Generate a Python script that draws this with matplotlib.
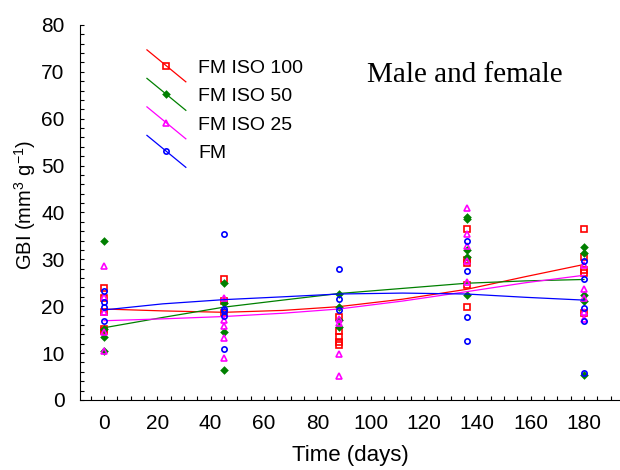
#
# GBI vs time with quadratic trend curves, four groups
#
import matplotlib
matplotlib.use('Agg')
import matplotlib.pyplot as plt
from matplotlib.legend_handler import HandlerLine2D
from matplotlib.lines import Line2D
from matplotlib.ticker import MultipleLocator

plt.rcParams['font.family'] = ['Liberation Sans', 'DejaVu Sans']
plt.rcParams['mathtext.fontset'] = 'custom'
plt.rcParams['mathtext.rm'] = 'Liberation Sans'
plt.rcParams['mathtext.it'] = 'Liberation Sans:italic'

# scatter data (day, GBI)
iso100_day = [0, 0, 0, 0, 0, 45, 45, 45, 88, 88, 88, 88, 88,
              136, 136, 136, 136, 136, 180, 180, 180, 180, 180]
iso100_gbi = [23.8, 21.8, 18.7, 15.1, 14.7, 25.9, 21.2, 18.5, 17.6, 14.8, 13.5, 12.4, 11.7,
              36.5, 29.9, 29.3, 24.6, 19.9, 36.5, 30.6, 27.7, 27.0, 18.6]

iso50_day = [0, 0, 0, 0, 45, 45, 45, 45, 88, 88, 88, 88,
             136, 136, 136, 136, 136, 180, 180, 180, 180, 180]
iso50_gbi = [34.0, 15.1, 13.5, 10.5, 25.0, 20.6, 14.4, 6.3, 22.5, 19.9, 17.1, 15.6,
             39.1, 38.7, 31.9, 30.6, 22.4, 32.7, 31.4, 22.4, 21.2, 5.3]

iso25_day = [0, 0, 0, 0, 0, 45, 45, 45, 45, 45, 88, 88, 88, 88,
             136, 136, 136, 136, 136, 180, 180, 180, 180, 180]
iso25_gbi = [28.6, 22.0, 18.7, 14.5, 10.5, 21.7, 17.1, 15.8, 13.2, 8.9, 17.2, 16.5, 9.8, 5.1,
             41.0, 35.3, 32.9, 29.6, 25.2, 28.8, 23.6, 21.7, 18.8, 17.2]

fm_day = [0, 0, 0, 0, 45, 45, 45, 45, 45, 88, 88, 88,
          136, 136, 136, 136, 180, 180, 180, 180, 180]
fm_gbi = [23.3, 21.0, 19.9, 16.9, 35.3, 19.4, 19.0, 17.9, 10.9, 28.0, 21.6, 19.1,
          34.0, 27.6, 17.8, 12.6, 29.7, 25.7, 19.7, 16.9, 5.8]

# trend curves
fit_day = [0, 22, 45, 67, 88, 112, 136, 158, 180]
iso100_fit = [19.4, 19.0, 18.7, 19.1, 19.9, 21.5, 23.6, 26.3, 28.9]
iso50_fit = [15.4, 17.6, 19.8, 21.3, 22.7, 23.8, 24.9, 25.4, 25.7]
iso25_fit = [16.9, 17.3, 17.8, 18.5, 19.4, 21.1, 23.1, 25.0, 26.6]
fm_fit = [19.2, 20.5, 21.4, 22.0, 22.6, 22.8, 22.6, 21.9, 21.3]


class DiagHandler(HandlerLine2D):
    # legend glyph: short falling line with the marker in the middle
    def create_artists(self, legend, orig_handle, xdescent, ydescent,
                       width, height, fontsize, trans):
        x0, x1 = -xdescent, width - xdescent
        yc = height / 2 - ydescent
        y0, y1 = yc + 11.5, yc - 11.5
        ln = Line2D([x0, x1], [y0, y1], color=orig_handle.get_color(), lw=0.9)
        mk = Line2D([(x0 + x1) / 2], [(y0 + y1) / 2], ls='none',
                    marker=orig_handle.get_marker(),
                    markersize=orig_handle.get_markersize(),
                    markerfacecolor=orig_handle.get_markerfacecolor(),
                    markeredgecolor=orig_handle.get_markeredgecolor(),
                    markeredgewidth=orig_handle.get_markeredgewidth())
        ln.set_transform(trans)
        mk.set_transform(trans)
        return [ln, mk]


fig = plt.figure(figsize=(6.2, 4.7), dpi=100)
ax = fig.add_axes([0.129, 0.149, 0.871, 0.798])

series = [
    ('FM ISO 100', iso100_day, iso100_gbi, iso100_fit, '#ff0000', 's', 'none'),
    ('FM ISO 50', iso50_day, iso50_gbi, iso50_fit, '#008000', 'D', '#008000'),
    ('FM ISO 25', iso25_day, iso25_gbi, iso25_fit, '#ff00ff', '^', 'none'),
    ('FM', fm_day, fm_gbi, fm_fit, '#0000ff', 'o', 'none'),
]

handles = []
for name, d, g, f, c, m, fc in series:
    ms = 3.2 if m == 'D' else 3.8
    ax.plot(d, g, ls='none', marker=m, markersize=ms, markerfacecolor=fc,
            markeredgecolor=c, markeredgewidth=1.2)
    ax.plot(fit_day, f, color=c, lw=0.9)
    h, = ax.plot([], [], color=c, marker=m, markersize=ms, markerfacecolor=fc,
                 markeredgecolor=c, markeredgewidth=1.2, label=name)
    handles.append(h)

ax.set_xlim(-9, 193.5)
ax.set_ylim(0, 80)
ax.xaxis.set_major_locator(MultipleLocator(20))
ax.xaxis.set_minor_locator(MultipleLocator(5))
ax.yaxis.set_major_locator(MultipleLocator(10))
ax.yaxis.set_minor_locator(MultipleLocator(2))
ax.tick_params(which='both', direction='in', length=3, width=0.8, labelsize=15,
               top=False, right=False)
ax.tick_params(axis='x', pad=10)
ax.tick_params(axis='y', pad=11)
ax.spines['top'].set_visible(False)
ax.spines['right'].set_visible(False)

ax.set_xlabel('Time (days)', fontsize=16, labelpad=9)
ax.set_ylabel('GBI (mm$^3$ g$^{-1}$)', fontsize=14.5)
ax.yaxis.set_label_coords(-0.078, 0.52)

leg = ax.legend(handles=handles, handler_map={Line2D: DiagHandler()},
                loc='upper left', bbox_to_anchor=(0.124, 0.909), frameon=False,
                borderpad=0, borderaxespad=0,
                fontsize=14, handlelength=2.0, handletextpad=0.62, labelspacing=0.56)

ax.text(0.532, 0.849, 'Male and female', transform=ax.transAxes,
        family='Liberation Serif', fontsize=21)

fig.savefig('out.png', dpi=100)
